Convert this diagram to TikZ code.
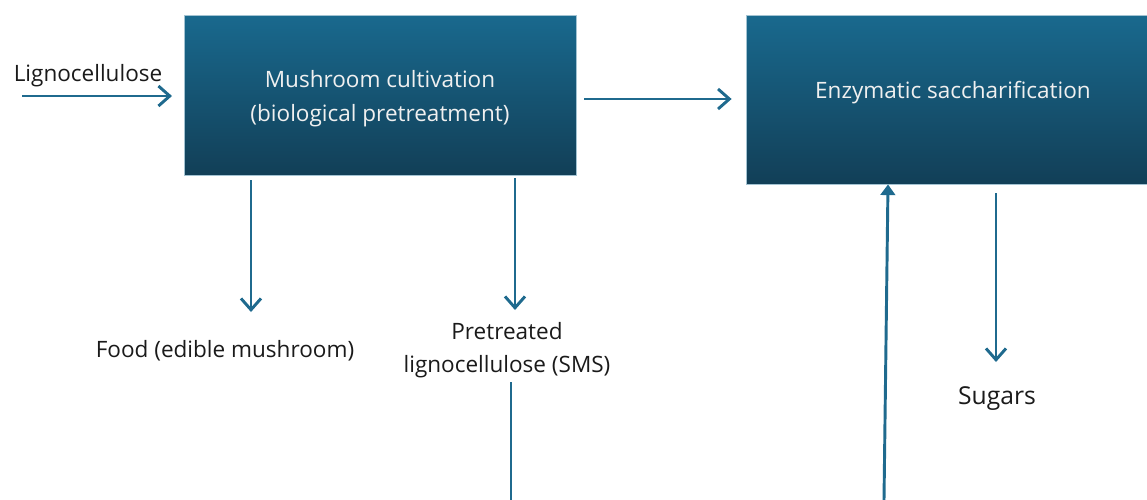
\documentclass[tikz,border=0pt]{standalone}
\usepackage{fontspec}
\setmainfont{Open Sans}
\usetikzlibrary{arrows.meta,calc}
\definecolor{arr}{HTML}{1F6A8E}
\definecolor{boxtop}{HTML}{19698E}
\definecolor{boxbot}{HTML}{123F57}
\definecolor{txt}{HTML}{1A1A1A}
\tikzset{
  procbox/.style={draw=boxtop!40!white, line width=0.6pt, top color=boxtop, bottom color=boxbot, inner sep=0pt},
  boxtext/.style={text=white!94!black, font=\fontsize{16.9pt}{25.5pt}\selectfont, align=center, inner sep=0pt},
  lbl/.style={text=txt, font=\fontsize{16.9pt}{25pt}\selectfont, align=center, inner sep=0pt},
  flow/.style={draw=arr, line width=2.2pt, -{Straight Barb[length=8.5pt,width=15pt,line width=2.2pt]}},
  feed/.style={draw=arr, line width=2.2pt, -{Triangle[length=8pt,width=11pt]}},
  plain/.style={draw=arr, line width=2.2pt},
}
\begin{document}
\begin{tikzpicture}[x=0.75pt,y=-0.75pt]
\useasboundingbox (0,0) rectangle (1147,500);
\node[procbox, minimum width=294pt, minimum height=120pt,
  label={[boxtext, yshift=-2.6pt]center:Mushroom cultivation\\(biological pretreatment)}] (mush) at (380,95) {};
\node[procbox, minimum width=310.5pt, minimum height=126.75pt,
  label={[boxtext, yshift=5pt]center:Enzymatic saccharification}] (enz) at (953,99.5) {};
\node[lbl] (ligno) at (88,76) {Lignocellulose};
\node[lbl] (food) at (225,351) {Food (edible mushroom)};
\node[lbl] (sms) at (507,350) {Pretreated\\lignocellulose (SMS)};
\node[lbl, font=\fontsize{18.5pt}{25pt}\selectfont] (sug) at (997,399) {Sugars};
\coordinate (in0) at (22,96);
\coordinate (in1) at (172,96);
\coordinate (f0) at (251,180);
\coordinate (f1) at (251,312);
\coordinate (p0) at (515,178);
\coordinate (p1) at (515,310);
\coordinate (s0) at (996,193);
\coordinate (s1) at (996,362);
\coordinate (bot1) at (511,500);
\coordinate (bot2) at (884,500);
\draw[flow] (in0) -- (in1);
\draw[flow] ($(mush.east)+(8,4)$) -- ($(enz.west)+(-14,-0.5)$);
\draw[flow] (f0) -- (f1);
\draw[flow] (p0) -- (p1);
\draw[plain] (sms.south -| bot1) ++(0,4) -- (bot1);
\draw[feed] (bot2) -- (enz.south -| 888,0);
\draw[flow] (s0) -- (s1);
\end{tikzpicture}
\end{document}
